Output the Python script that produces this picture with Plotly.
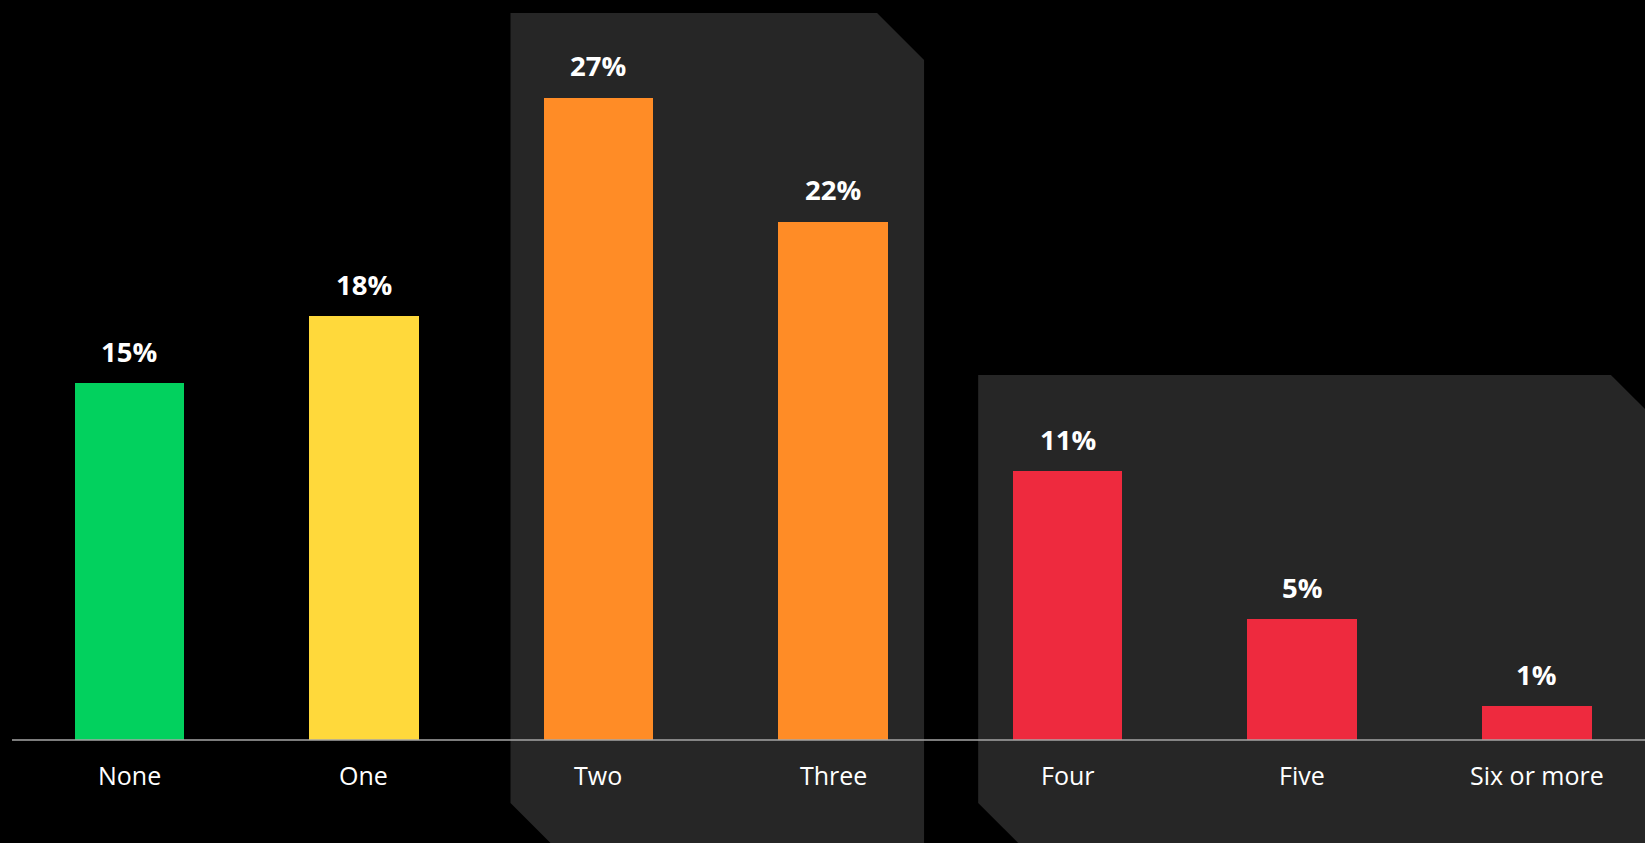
import plotly.graph_objects as go

categories = ["None", "One", "Two", "Three", "Four", "Five", "Six or more"]
values = [15.06, 17.89, 27.09, 21.86, 11.35, 5.1, 1.43]
bar_colors = ["#02D15E", "#FFD93B", "#FF8C26", "#FF8C26", "#EE2A3E", "#EE2A3E", "#EE2A3E"]
value_labels = [f"{v:.0f}%" for v in values]

W, H = 1645, 843
ML = 12
X_RANGE = [-0.5, 6.461]
PX_X = (W - ML) / (X_RANGE[1] - X_RANGE[0])
AXIS_PX = 740
PX_Y = 23.7
Y_RANGE = [-(H - AXIS_PX) / PX_Y, AXIS_PX / PX_Y]

def dx(px):
    return px / PX_X

def dy(px):
    return px / PX_Y

x_idx = list(range(len(categories)))

fig = go.Figure()
fig.add_trace(go.Bar(
    x=x_idx, y=values, marker=dict(color=bar_colors, line=dict(width=0)),
    width=0.467, hoverinfo="skip", showlegend=False,
))

PANEL = "#262626"
ch = 47  # chamfer in px

def panel(xl, xr, yt, yb):
    cx, cy = dx(ch), dy(ch)
    return (f"M {xl},{yt} L {xr - cx},{yt} L {xr},{yt - cy} L {xr},{yb} "
            f"L {xl + cx},{yb} L {xl},{yb + cy} Z")

yb = -dy(850 - AXIS_PX)
shapes = [
    dict(type="path", xref="x", yref="y", layer="below", line=dict(width=0), fillcolor=PANEL,
         path=panel(2 - dx(88), 3 + dx(91), dy(AXIS_PX - 13), yb)),
    dict(type="path", xref="x", yref="y", layer="below", line=dict(width=0), fillcolor=PANEL,
         path=panel(4 - dx(89.5), 6.516, dy(AXIS_PX - 375), yb)),
    dict(type="line", xref="paper", yref="y", x0=0, x1=1, y0=0, y1=0, layer="above",
         line=dict(color="#A6A6A6", width=1.5)),
]

annotations = []
for i, (v, lab) in enumerate(zip(values, value_labels)):
    annotations.append(dict(x=i, y=v, xref="x", yref="y", text=f"<b>{lab}</b>", showarrow=False,
                            yanchor="middle", yshift=32,
                            font=dict(family="Open Sans", size=27.5, color="#FFFFFF")))
for i, c in enumerate(categories):
    annotations.append(dict(x=i, y=0, xref="x", yref="y", text=c, showarrow=False,
                            yanchor="middle", yshift=-35,
                            font=dict(family="Open Sans", size=25, color="#FFFFFF")))

fig.update_layout(
    width=W, height=H,
    margin=dict(l=ML, r=0, t=0, b=0),
    paper_bgcolor="#000000", plot_bgcolor="#000000",
    xaxis=dict(range=X_RANGE, visible=False, fixedrange=True),
    yaxis=dict(range=Y_RANGE, visible=False, fixedrange=True),
    shapes=shapes, annotations=annotations, bargap=0,
)

fig.write_html("out.html", config={"displayModeBar": False})
